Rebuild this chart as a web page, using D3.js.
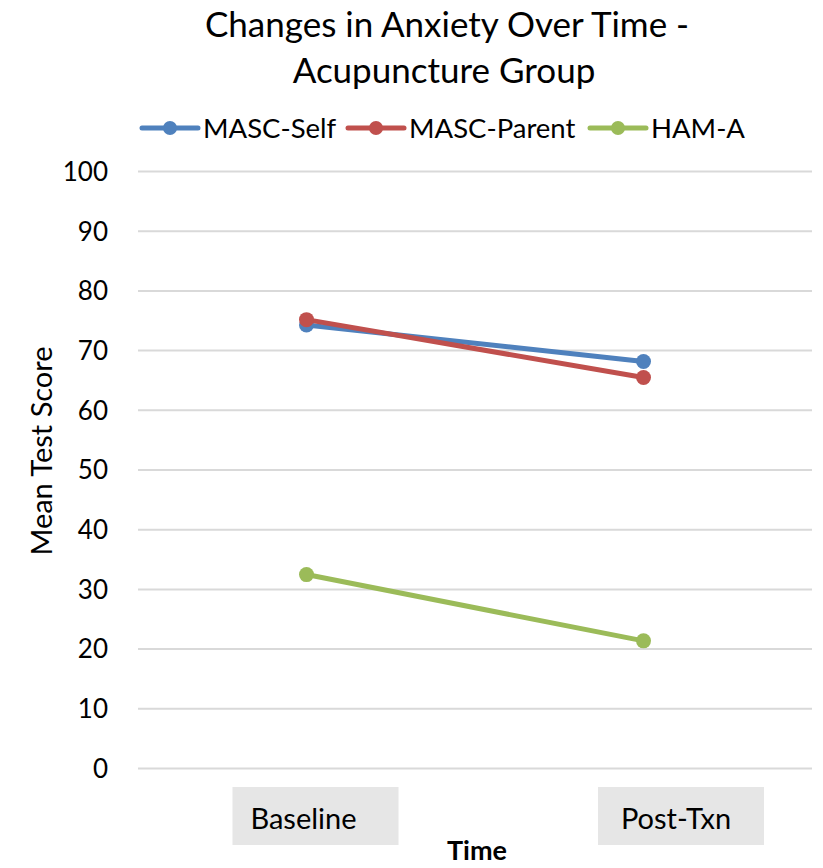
<!DOCTYPE html>
<html><head><meta charset="utf-8">
<script src="https://cdn.jsdelivr.net/npm/d3@7"></script>
<style>body{margin:0;background:#fff}svg{display:block}text{font-family:Lato,"Open Sans",sans-serif;fill:#000}</style>
</head><body>
<svg id="c" width="823" height="868"></svg>
<script>
const categories = ["Baseline", "Post-Txn"];
const seriesNames = ["MASC-Self", "MASC-Parent", "HAM-A"];
const mascSelf = [74.2, 68.1];
const mascParent = [75.1, 65.4];
const hamA = [32.4, 21.3];
const yTicks = [0, 10, 20, 30, 40, 50, 60, 70, 80, 90, 100];
const colors = ["#4f81bd", "#c0504d", "#9bbb59"];
const seriesValues = [mascSelf, mascParent, hamA];

const svg = d3.select("#c");
const x = d3.scalePoint().domain(categories).range([138, 812]).padding(0.5);
const y = d3.scaleLinear().domain([0, 100]).range([768, 171]);

// title
svg.append("text").attr("x", 447).attr("y", 37).attr("text-anchor", "middle")
  .style("font-size", "35px").text("Changes in Anxiety Over Time -");
svg.append("text").attr("x", 444).attr("y", 83).attr("text-anchor", "middle")
  .style("font-size", "35px").text("Acupuncture Group");

// gridlines + y axis
const yAxis = d3.axisLeft(y).tickValues(yTicks).tickSize(-(812 - 138)).tickPadding(30);
const ga = svg.append("g").attr("transform", "translate(138,0)").call(yAxis);
ga.select(".domain").remove();
ga.selectAll(".tick line").attr("stroke", "#d9d9d9").attr("stroke-width", 2);
ga.selectAll(".tick text").style("font-size", "26px").style("font-family", "Lato,sans-serif").attr("fill", "#000").attr("dy", "0.36em");

// y title
svg.append("text").attr("transform", "translate(52,451) rotate(-90)").attr("text-anchor", "middle")
  .style("font-size", "29px").text("Mean Test Score");

// category labels with boxes
const boxOffsets = {"Baseline": 9, "Post-Txn": 37.5};
const textOffsets = {"Baseline": -3, "Post-Txn": 32.5};
categories.forEach(c => {
  const bx = x(c) + boxOffsets[c];
  svg.append("rect").attr("x", bx - 83).attr("y", 787).attr("width", 166).attr("height", 58).attr("fill", "#e6e6e6");
  svg.append("text").attr("x", x(c) + textOffsets[c]).attr("y", 829).attr("text-anchor", "middle").style("font-size", "29px").text(c);
});
svg.append("text").attr("x", 477).attr("y", 860).attr("text-anchor", "middle")
  .style("font-size", "27px").style("font-weight", "bold").text("Time");

// lines
const line = d3.line().x((d, i) => x(categories[i])).y(d => y(d));
seriesValues.forEach((vals, k) => {
  svg.append("path").datum(vals).attr("d", line).attr("fill", "none")
    .attr("stroke", colors[k]).attr("stroke-width", 5).attr("stroke-linecap", "round");
  svg.selectAll(null).data(vals).enter().append("circle")
    .attr("cx", (d, i) => x(categories[i])).attr("cy", d => y(d)).attr("r", 7.5).attr("fill", colors[k]);
});

// legend
const legX = [142, 348, 590];
const legend = svg.append("g");
seriesNames.forEach((n, k) => {
  const g = legend.append("g").attr("transform", `translate(${legX[k]},128)`);
  g.append("line").attr("x1", 0).attr("x2", 56).attr("stroke", colors[k]).attr("stroke-width", 5).attr("stroke-linecap", "round");
  g.append("circle").attr("cx", 28).attr("r", 7).attr("fill", colors[k]);
  g.append("text").attr("x", 61).attr("y", 10).style("font-size", "27.5px").text(n);
});
</script>
</body></html>
